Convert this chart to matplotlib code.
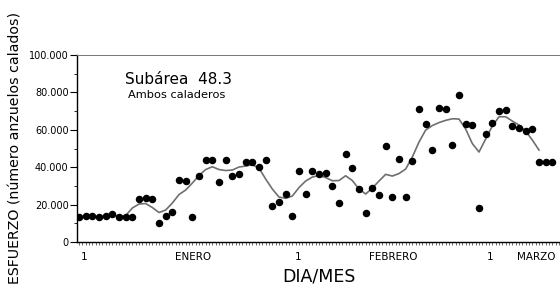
import matplotlib
matplotlib.use("Agg")
import matplotlib.pyplot as plt
from matplotlib.ticker import MultipleLocator, FuncFormatter

# esfuerzo diario (numero de anzuelos calados), un punto por dia
esfuerzo = [
    13530, 13900, 13900, 13210, 13740, 14810, 13530, 13530, 13210, 23150,
    23690, 22830, 10000, 13740, 15880, 33150, 32460, 13530, 35290, 43850,
    43850, 32250, 43850, 35290, 36360, 42620, 42620, 40110, 43850, 19250,
    21550, 25830, 13900, 37970, 25510, 38130, 36200, 37170, 30050, 21020,
    47220, 39410, 28180, 15510, 28720, 25130, 51340, 24220, 44390, 24330,
    43320, 71120, 62940, 49200, 71500, 70960, 51710, 78610, 63260, 62570,
    18340, 57750, 63640, 70050, 70590, 62030, 60800, 59520, 60270, 42620,
    42620, 42620,
]
dias = list(range(len(esfuerzo)))

# curva suavizada
suavizado = [
    13640, 13740, 13740, 13740, 13900, 14170, 13900, 14170, 18180, 20320,
    20590, 18450, 15780, 17110, 20860, 25400, 27810, 31550, 35560, 38770,
    40270, 38770, 38240, 38500, 40110, 40640, 41340, 39570, 33690, 28340,
    24060, 23370, 24600, 29140, 32620, 34760, 35560, 34490, 32780, 32890,
    35450, 32890, 28340, 25670, 28880, 32620, 36200, 35290, 36630, 39040,
    45450, 53480, 59890, 62300, 63900, 65080, 65940, 65780, 60430, 52670,
    48130, 55080, 62030, 67010, 67010, 64710, 62570, 59360, 54550, 49200,
]
dias_suav = list(range(len(suavizado)))

# etiquetas del eje x (posicion en dias)
etiq_pos = [0.75, 17.1, 32.85, 47.2, 61.65]
etiq_txt = ["1", "ENERO", "1", "FEBRERO", "1"]

fig = plt.figure(figsize=(5.6, 2.93), dpi=100)
ax = fig.add_axes([0.1375, 0.174, 0.8625, 0.638])

ax.plot(dias_suav, suavizado, color="#6f6f6f", lw=1.2, zorder=2)
ax.plot(dias, esfuerzo, "o", color="black", ms=4.4, zorder=3)

ax.set_xlim(-0.3, 72.15)
ax.set_ylim(0, 100000)

ax.spines["right"].set_visible(False)
ax.spines["top"].set_color("#777777")
ax.spines["top"].set_linewidth(0.7)
ax.spines["left"].set_linewidth(1.0)
ax.spines["bottom"].set_linewidth(1.0)

ax.yaxis.set_major_locator(MultipleLocator(20000))
ax.yaxis.set_minor_locator(MultipleLocator(10000))
ax.yaxis.set_major_formatter(FuncFormatter(
    lambda v, p: "0" if v == 0 else f"{int(v):,}".replace(",", ".")))
ax.tick_params(axis="y", which="major", length=5, width=0.8, labelsize=7, pad=1)
ax.tick_params(axis="y", which="minor", length=2.5, width=0.6)

ax.xaxis.set_major_locator(MultipleLocator(0.5))
ax.xaxis.set_major_formatter(FuncFormatter(lambda v, p: ""))
ax.tick_params(axis="x", which="major", length=1.8, width=0.6, color="#555555")

for xp, t in zip(etiq_pos, etiq_txt):
    ax.text(xp, -5500, t, ha="center", va="top", fontsize=7.5)
ax.text(65.7, -5500, "MARZO", ha="left", va="top", fontsize=7.5)

ax.text(36.0, -13500, "DIA/MES", ha="center", va="top", fontsize=12.5)
fig.text(0.028, 0.495, "ESFUERZO (número anzuelos calados)", rotation=90,
         ha="center", va="center", fontsize=10.2)

ax.text(6.9, 87000, "Subárea  48.3", fontsize=11, ha="left", va="center")
ax.text(7.3, 78500, "Ambos caladeros", fontsize=8.2, ha="left", va="center")

fig.savefig("out.png", dpi=100)
